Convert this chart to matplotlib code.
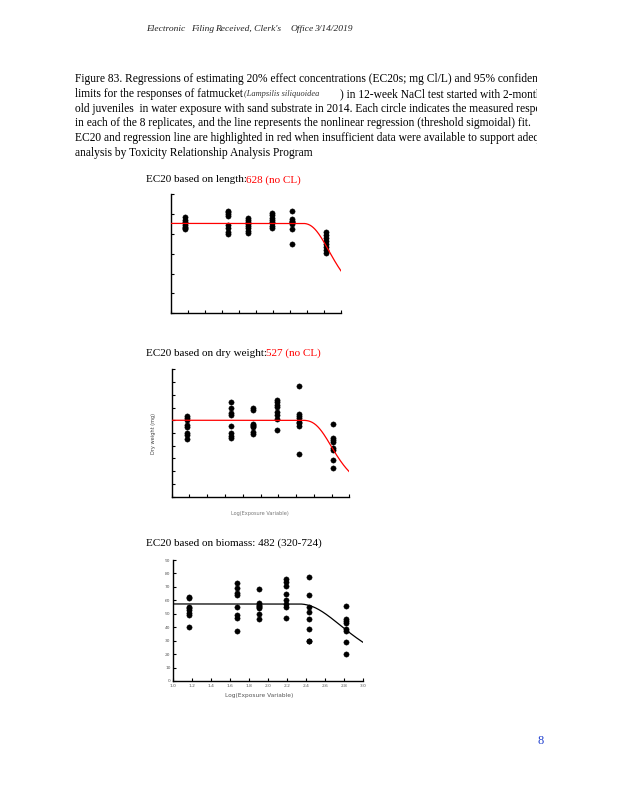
import numpy as np
import matplotlib
matplotlib.use("Agg")
import matplotlib.pyplot as plt
from matplotlib.transforms import Bbox

# ---------------- data ----------------
log_conc = [1.17, 1.67, 1.91, 2.19, 2.43, 2.82]

length_vals = [
    [48.5, 47.0, 46.0, 45.2, 44.4, 43.5, 42.7, 42.2],
    [51.4, 50.8, 49.7, 48.9, 44.4, 42.7, 41.0, 39.7],
    [47.7, 46.7, 45.7, 44.7, 43.7, 42.7, 41.5, 40.5],
    [50.3, 49.5, 47.7, 46.9, 46.0, 45.2, 44.0, 42.7],
    [51.2, 47.2, 46.5, 46.0, 45.7, 45.0, 42.2, 34.8],
    [41.0, 39.5, 38.0, 36.5, 35.0, 33.5, 32.0, 30.2],
]
dryweight_vals = [
    [63.3, 61.5, 60.0, 56.3, 54.5, 50.2, 48.4, 45.3],
    [74.1, 69.9, 65.9, 64.1, 55.5, 49.8, 47.6, 45.8],
    [69.4, 68.1, 57.1, 56.3, 55.5, 54.5, 51.0, 49.2],
    [75.9, 74.1, 72.0, 70.2, 66.7, 64.1, 60.8, 52.4],
    [86.9, 64.9, 63.3, 61.5, 59.0, 57.6, 55.7, 33.5],
    [56.8, 46.3, 44.5, 43.2, 38.5, 36.7, 28.8, 22.8],
]
biomass_vals = [
    [62.7, 61.5, 55.3, 54.1, 53.0, 50.8, 49.1, 40.4],
    [73.1, 69.4, 65.7, 64.0, 55.3, 49.1, 47.1, 37.4],
    [68.5, 57.8, 56.5, 56.0, 55.0, 54.5, 49.6, 45.9],
    [75.7, 73.5, 71.0, 64.5, 60.3, 57.6, 54.8, 46.7],
    [77.6, 64.0, 55.3, 51.1, 46.1, 38.7, 30.0, 30.0],
    [56.0, 46.1, 44.9, 42.9, 38.7, 37.4, 28.8, 20.1],
]

# threshold sigmoid parameters (top, threshold, scale, slope)
length_fit = (45.2, 2.545, 0.435, 2.5)
dryweight_fit = (60.0, 2.45, 0.432, 3.0)
biomass_fit = (57.3, 2.32, 0.686, 2.2)

x_ticks = [1.0, 1.2, 1.4, 1.6, 1.8, 2.0, 2.2, 2.4, 2.6, 2.8, 3.0]
x_tick_labels = ["1.0", "1.2", "1.4", "1.6", "1.8", "2.0", "2.2", "2.4", "2.6", "2.8", "3.0"]
bio_y_ticks = [0, 10, 20, 30, 40, 50, 60, 70, 80, 90]

titles = [
    ("EC20 based on length:", "628 (no CL)"),
    ("EC20 based on dry weight:", "527 (no CL)"),
    ("EC20 based on biomass: 482 (320-724)", ""),
]

header = ["Electronic", "Filing", "Received, Clerk's", "Office", "3/14/2019"]

caption = [
    "Figure 83. Regressions of estimating 20% effect concentrations (EC20s; mg Cl/L) and 95% confidence",
    None,
    "old juveniles  in water exposure with sand substrate in 2014. Each circle indicates the measured response",
    "in each of the 8 replicates, and the line represents the nonlinear regression (threshold sigmoidal) fit.",
    "EC20 and regression line are highlighted in red when insufficient data were available to support adequate",
    "analysis by Toxicity Relationship Analysis Program",
]

# ---------------- figure ----------------
W, H = 618, 800
fig = plt.figure(figsize=(W / 100, H / 100), dpi=100)
fig.patch.set_facecolor("white")
renderer = fig.canvas.get_renderer()

SERIF = ["Liberation Serif", "DejaVu Serif"]


def fx(x):
    return x / W


def fy(y):
    return 1 - y / H


def ptext(x, y, s, **kw):
    return fig.text(fx(x), fy(y), s, **kw)


def width_at10(s, **kw):
    t = fig.text(0, 0, s, fontsize=10, **kw)
    w = t.get_window_extent(renderer).width
    t.remove()
    return w


# header (italic), laid out sequentially between x=146 and x=353
hdr_gaps = [6, 0.5, 10, 0.5]
hkw = dict(family=SERIF, style="italic")
w10 = [width_at10(s, **hkw) for s in header]
scale = (353 - 146 - sum(hdr_gaps)) / sum(w10)
hfs = 10 * scale
xc = 146
for i, s in enumerate(header):
    ptext(xc, 29, s, fontsize=hfs, va="center", color="#222222", **hkw)
    xc += w10[i] * scale + (hdr_gaps[i] if i < len(hdr_gaps) else 0)

# caption
clip = Bbox([[0, 0], [537, H]])
cap_fs = 10 * 240 / width_at10(caption[5], family=SERIF)
cap_y0, cap_dy = 79, 14.8
for i, line in enumerate(caption):
    y = cap_y0 + i * cap_dy
    if line is None:
        t1 = ptext(75, y, "limits for the responses of fatmucket", family=SERIF, fontsize=cap_fs,
                   va="center")
        x1 = t1.get_window_extent(renderer).x1
        ptext(x1 + 1, y, "(Lampsilis siliquoidea", family=SERIF, style="italic",
              fontsize=cap_fs * 0.72, va="center", color="#333333")
        t3 = ptext(340, y, ") in 12-week NaCl test started with 2-month", family=SERIF,
                   fontsize=cap_fs, va="center")
        t3.set_clip_box(clip)
        t3.set_clip_on(True)
        continue
    t = ptext(75, y, line, family=SERIF, fontsize=cap_fs, va="center")
    t.set_clip_box(clip)
    t.set_clip_on(True)


def curve(params, x):
    top, thr, c, b = params
    x = np.asarray(x)
    z = np.clip((x - thr) / c, 0, None)
    return top / (1 + z ** b)


def make_axes(l, r, t, b):
    ax = fig.add_axes([fx(l), fy(b), (r - l) / W, (b - t) / H])
    for sp in ["top", "right"]:
        ax.spines[sp].set_visible(False)
    for sp in ["left", "bottom"]:
        ax.spines[sp].set_linewidth(1.0)
    ax.set_xlim(1.0, 3.0)
    ax.set_xticks(x_ticks)
    ax.tick_params(direction="in", length=2.5, width=0.8, labelsize=3.2, pad=2,
                   labelcolor="#555555")
    return ax


def scatter_cols(ax, vals):
    for xv, col in zip(log_conc, vals):
        ax.plot([xv] * len(col), col, "o", color="black", ms=3.8, mec="black", mew=0.3,
                linestyle="none", zorder=3)


xs = np.linspace(1.0, 3.0, 400)

# ---- plot 1: length ----
ax1 = make_axes(170.7, 341, 194, 313.3)
ax1.set_ylim(0, 60)
ax1.set_yticks(range(0, 61, 10))
ax1.set_xticklabels([])
ax1.set_yticklabels([])
scatter_cols(ax1, length_vals)
ax1.plot(xs, curve(length_fit, xs), color="red", lw=0.9, zorder=4)

# ---- plot 2: dry weight ----
ax2 = make_axes(171.7, 349.3, 369.3, 496.7)
ax2.set_ylim(0, 100)
ax2.set_yticks(range(0, 101, 10))
ax2.set_xticklabels([])
ax2.set_yticklabels([])
scatter_cols(ax2, dryweight_vals)
ax2.plot(xs, curve(dryweight_fit, xs), color="red", lw=0.9, zorder=4)
ptext(260, 513, "Log(Exposure Variable)", fontsize=3.6, color="#777777", ha="center", va="center")
ptext(153.5, 433, "Dry weight (mg)", fontsize=3.6, color="#444444", ha="center", va="center",
      rotation=90)

# ---- plot 3: biomass ----
ax3 = make_axes(173.3, 362.7, 560, 681)
ax3.set_ylim(0, 90)
ax3.set_yticks(bio_y_ticks)
ax3.set_yticklabels([str(v) for v in bio_y_ticks])
ax3.set_xticklabels(x_tick_labels)
scatter_cols(ax3, biomass_vals)
ax3.plot(xs, curve(biomass_fit, xs), color="black", lw=0.9, zorder=4)
ptext(259, 695, "Log(Exposure Variable)", fontsize=4.2, color="#555555", ha="center", va="center")

# ---- titles ----
for (black, red), ty in zip(titles, [180, 353.3, 543.3]):
    t = ptext(146.5, ty, black, family=SERIF, fontsize=8, va="center")
    if red:
        x1 = t.get_window_extent(renderer).x1
        fig.text((x1 - 1) / W, fy(ty), red, family=SERIF, fontsize=8, va="center", color="red")

# page number
ptext(541, 741, "8", family=SERIF, fontsize=9, color="#1f3fcf", ha="center", va="center")

fig.savefig("out.png", dpi=100)
